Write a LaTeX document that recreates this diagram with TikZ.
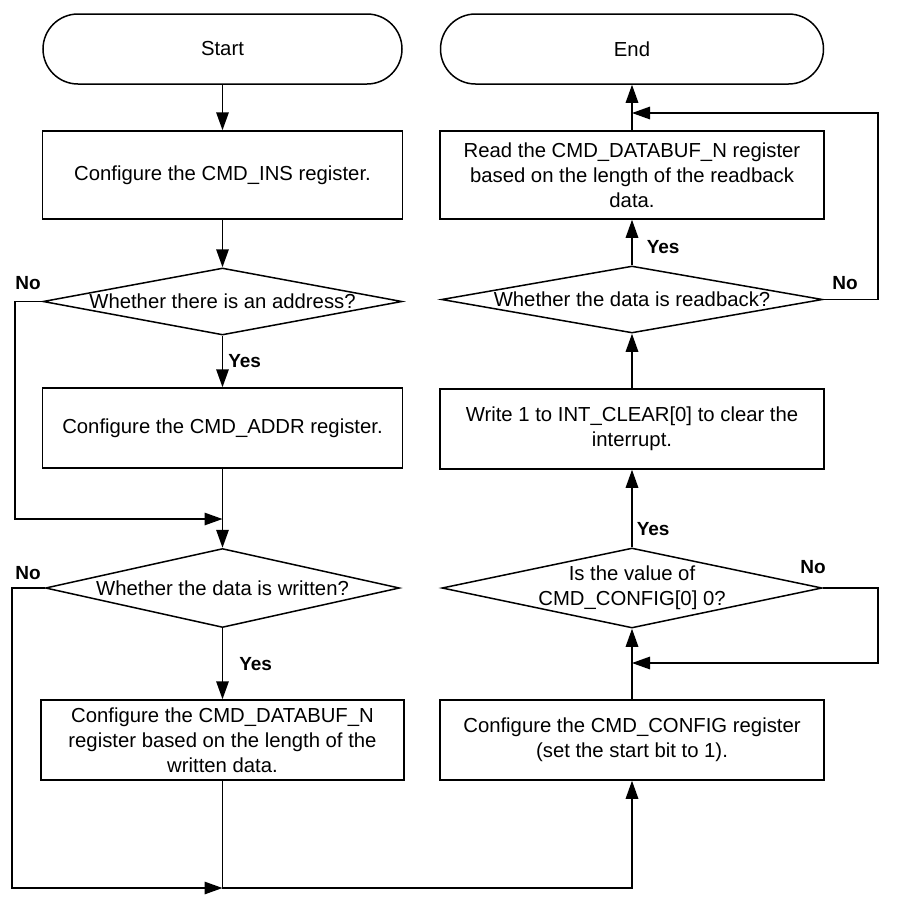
\documentclass[tikz,border=0pt]{standalone}
\usepackage{fontspec}
\setmainfont{Liberation Sans}
\usetikzlibrary{arrows.meta,shapes.geometric}
\begin{document}
\begin{tikzpicture}[x=1pt,y=-1pt,
  base/.style={draw, line width=1.5pt, font=\fontsize{20.3}{25}\selectfont, align=center, inner sep=0pt},
  term/.style={base, rounded corners=35pt, minimum height=70pt},
  proc/.style={base},
  dia/.style={base, diamond},
  txt/.style={font=\fontsize{20.3}{25}\selectfont, align=center, inner sep=0pt},
  arr/.style={line width=1.5pt, -{Triangle[length=18pt,width=12.5pt]}},
  lab/.style={font=\fontsize{19}{22}\selectfont\bfseries, inner sep=0pt}]
\useasboundingbox (0,0) rectangle (897,906);
% left column
\node[term, minimum width=359pt] (start) at (222.5,49) {Start};
\node[proc, minimum width=360pt, minimum height=88pt] (b1) at (222.5,175) {Configure the CMD\_INS register.};
\node[dia, minimum width=359pt, minimum height=67pt] (d1) at (222.5,301.5) {};
\node[txt] at (d1) {Whether there is an address?};
\node[proc, minimum width=360pt, minimum height=80pt] (b2) at (222.5,428) {Configure the CMD\_ADDR register.};
\node[dia, minimum width=354pt, minimum height=79pt] (d2) at (222.5,588) {};
\node[txt] at (d2) {Whether the data is written?};
\node[proc, minimum width=363pt, minimum height=80pt] (b3) at (222.5,740) {Configure the CMD\_DATABUF\_N\\register based on the length of the\\written data.};
% right column
\node[term, minimum width=383pt] (end) at (632,49) {End};
\node[proc, minimum width=384pt, minimum height=88pt] (b6) at (632,175) {Read the CMD\_DATABUF\_N register\\based on the length of the readback\\data.};
\node[dia, minimum width=381pt, minimum height=67pt] (d4) at (632,299.5) {};
\node[txt] at (d4) {Whether the data is readback?};
\node[proc, minimum width=384pt, minimum height=80pt] (b5) at (632,429) {Write 1 to INT\_CLEAR[0] to clear the\\interrupt.};
\node[dia, minimum width=380pt, minimum height=80pt] (d3) at (632,588) {};
\node[txt] at (d3) {Is the value of\\CMD\_CONFIG[0] 0?};
\node[proc, minimum width=384pt, minimum height=80pt] (b4) at (632,740) {Configure the CMD\_CONFIG register\\(set the start bit to 1).};
% helper coordinates
\coordinate (n1) at (15,301.5);
\coordinate (m1) at (222.5,519);
\coordinate (n2) at (12,588);
\coordinate (m2) at (222.5,888);
\coordinate (n3) at (878,588);
\coordinate (m3) at (632,663);
\coordinate (n4) at (878,299.5);
\coordinate (m4) at (632,113);
% connectors
\draw[arr] (start.south) -- (b1.north);
\draw[arr] (b1.south) -- (d1.north);
\draw[arr] (d1.south) -- node[lab, right=5pt] {Yes} (b2.north);
\draw[arr] (d1.west) -- (n1) |- (m1);
\draw[arr] (b2.south) -- (d2.north);
\draw[arr] (d2.south) -- node[lab, right=16pt] {Yes} (b3.north);
\draw[arr] (d2.west) -- (n2) |- (m2);
\draw[arr] (b3.south) -- (m2) -| (b4.south);
\draw[arr] (b4.north) -- (d3.south);
\draw[arr] (d3.east) -- (n3) |- (m3);
\draw[arr] (d3.north) -- node[lab, right=4pt, pos=0.24] {Yes} (b5.south);
\draw[arr] (b5.north) -- (d4.south);
\draw[arr] (d4.north) -- node[lab, right=14pt, pos=0.4] {Yes} (b6.south);
\draw[arr] (d4.east) -- (n4) |- (m4);
\draw[arr] (b6.north) -- (end.south);
% No labels
\node[lab] at (28,283) {No};
\node[lab] at (28,573) {No};
\node[lab] at (813,567) {No};
\node[lab] at (845,283) {No};
\end{tikzpicture}
\end{document}
